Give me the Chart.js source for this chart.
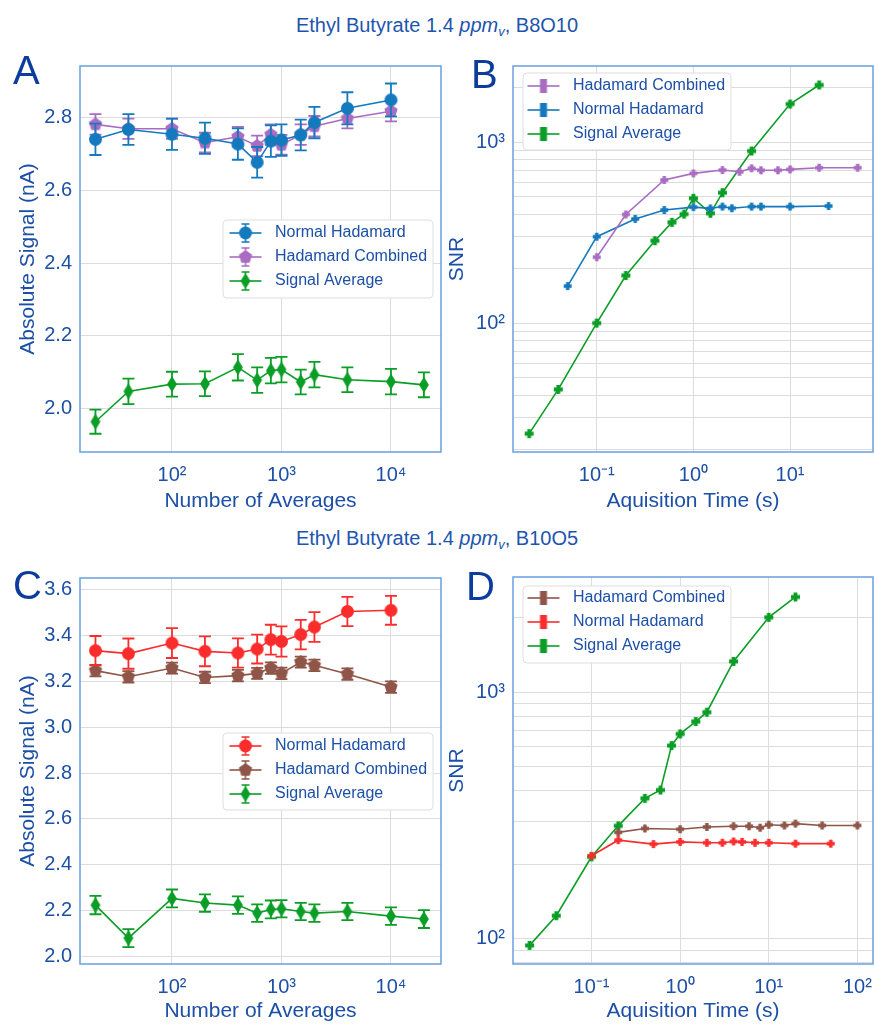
<!DOCTYPE html>
<html>
<head>
<meta charset="utf-8">
<script src="https://cdn.jsdelivr.net/npm/chart.js@4.4.1/dist/chart.umd.min.js"></script>
<style>
  body { margin: 0; background: #fff; }
  #page { position: relative; width: 874px; height: 1024px; overflow: hidden; font-family: 'Liberation Sans', Arial, sans-serif; }
  canvas { position: absolute; }
  .title { position: absolute; left: 0; width: 874px; text-align: center; font-size: 20px; line-height: 24px; color: #1d55ae; }
  .title sub { font-size: 13px; vertical-align: -4px; line-height: 0; }
  .letter { position: absolute; font-size: 40px; line-height: 40px; color: #0c3d9c; }
</style>
</head>
<body>
<div id="page">
  <canvas id="chartA" width="445" height="472" style="left:0;top:50px"></canvas>
  <canvas id="chartB" width="429" height="472" style="left:445px;top:50px"></canvas>
  <canvas id="chartC" width="445" height="462" style="left:0;top:562px"></canvas>
  <canvas id="chartD" width="429" height="462" style="left:445px;top:562px"></canvas>

  <div class="title" style="top:13px">Ethyl Butyrate 1.4 <i>ppm<sub>v</sub></i>, B8O10</div>
  <div class="title" style="top:526px">Ethyl Butyrate 1.4 <i>ppm<sub>v</sub></i>, B10O5</div>
  <div class="letter" style="left:13px;top:50px">A</div>
  <div class="letter" style="left:471px;top:54px">B</div>
  <div class="letter" style="left:13px;top:565px">C</div>
  <div class="letter" style="left:466px;top:566px">D</div>
</div>
<script>
const TEXT = '#1c4fa6';
const GRID = '#dcdcdc';
const SPINE = '#6a9ee0';
const FONT = "'Liberation Sans', Arial, sans-serif";
const BLUE = '#1479bd';
const PURPLE = '#a96cc2';
const GREEN = '#0b9e26';
const RED = '#fb2c2c';
const BROWN = '#8f5548';

// number of averages (x of panels A and C)
const numAverages = [20, 40, 100, 200, 400, 600, 800, 1000, 1500, 2000, 4000, 10000, 20000];
const avgTicks = [100, 1000, 10000];
const avgTickLabels = ['10²', '10³', '10⁴'];

// panel A
const aNormal = [2.739, 2.766, 2.753, 2.742, 2.726, 2.676, 2.734, 2.737, 2.751, 2.785, 2.824, 2.847];
const aNormalErr = [0.043, 0.042, 0.043, 0.043, 0.043, 0.042, 0.043, 0.043, 0.042, 0.043, 0.044, 0.045];
const aCombined = [2.780, 2.768, 2.768, 2.730, 2.746, 2.721, 2.752, 2.724, 2.752, 2.775, 2.796, 2.816];
const aCombinedErr = [0.028, 0.028, 0.028, 0.027, 0.027, 0.028, 0.028, 0.027, 0.028, 0.028, 0.027, 0.028];
const aSignal = [1.965, 2.048, 2.068, 2.069, 2.114, 2.079, 2.105, 2.108, 2.074, 2.094, 2.080, 2.075, 2.066];
const aSignalErr = [0.033, 0.035, 0.034, 0.034, 0.036, 0.035, 0.035, 0.035, 0.034, 0.035, 0.034, 0.035, 0.034];
const aYTicks = [2.0, 2.2, 2.4, 2.6, 2.8];

// panel C
const cNormal = [3.334, 3.321, 3.367, 3.331, 3.324, 3.341, 3.382, 3.374, 3.404, 3.437, 3.505, 3.510];
const cNormalErr = [0.064, 0.066, 0.065, 0.065, 0.064, 0.063, 0.065, 0.066, 0.064, 0.065, 0.064, 0.063];
const cCombined = [3.247, 3.220, 3.258, 3.217, 3.225, 3.235, 3.258, 3.235, 3.284, 3.270, 3.232, 3.175];
const cCombinedErr = [0.025, 0.025, 0.024, 0.025, 0.025, 0.024, 0.025, 0.025, 0.024, 0.025, 0.025, 0.025];
const cSignal = [2.224, 2.080, 2.253, 2.233, 2.224, 2.189, 2.205, 2.208, 2.196, 2.189, 2.196, 2.176, 2.163];
const cSignalErr = [0.040, 0.039, 0.039, 0.038, 0.038, 0.038, 0.039, 0.038, 0.038, 0.038, 0.038, 0.038, 0.039];
const cYTicks = [2.0, 2.2, 2.4, 2.6, 2.8, 3.0, 3.2, 3.4, 3.6];

// panel B (acquisition time in s, SNR)
const bSignalTime = [0.02, 0.04, 0.1, 0.2, 0.4, 0.6, 0.8, 1, 1.5, 2, 4, 10, 20];
const bSignal = [24.5, 43, 100, 183, 285, 360, 400, 489, 404, 525, 892, 1622, 2066];
const bNormalTime = [0.05, 0.1, 0.25, 0.5, 1, 1.5, 2, 2.5, 4, 5, 10, 25];
const bNormal = [160, 300, 376, 421, 437, 430, 440, 431, 440, 440, 440, 443];
const bCombinedTime = [0.1, 0.2, 0.5, 1, 2, 3, 4, 5, 7.5, 10, 20, 50];
const bCombined = [231, 398, 617, 671, 700, 685, 716, 698, 698, 706, 721, 721];
const bTimeTicks = [0.1, 1, 10];
const bTimeLabels = ['10⁻¹', '10⁰', '10¹'];
const bSnrGrid = [20, 30, 40, 50, 60, 70, 80, 90, 100, 200, 300, 400, 500, 600, 700, 800, 900, 1000, 2000];

// panel D
const dSignalTime = [0.02, 0.04, 0.1, 0.2, 0.4, 0.6, 0.8, 1, 1.5, 2, 4, 10, 20];
const dSignal = [94, 124, 215, 287, 371, 401, 607, 677, 760, 829, 1332, 2010, 2432];
const dCombinedTime = [0.2, 0.4, 1, 2, 4, 6, 8, 10, 15, 20, 40, 100];
const dCombined = [270, 280, 278, 284, 286, 286, 282, 290, 288, 293, 288, 288];
const dNormalTime = [0.1, 0.2, 0.5, 1, 2, 3, 4, 5, 7, 10, 20, 50];
const dNormal = [217, 251, 242, 247, 245, 245, 248, 247, 245, 245, 243, 243];
const dTimeTicks = [0.1, 1, 10, 100];
const dTimeLabels = ['10⁻¹', '10⁰', '10¹', '10²'];
const dSnrGrid = [80, 90, 100, 200, 300, 400, 500, 600, 700, 800, 900, 1000, 2000];

const snrLabelVals = [100, 1000];
const snrLabels = ['10²', '10³'];

// marker shapes as small canvases
function drawShape(g, shape, m, n, r) {
  g.beginPath();
  if (shape === 'circle') {
    g.arc(m, n, r, 0, Math.PI * 2);
  } else if (shape === 'pentagon') {
    for (let i = 0; i < 5; i++) {
      const a = -Math.PI / 2 + i * 2 * Math.PI / 5;
      g.lineTo(m + r * Math.cos(a), n + r * Math.sin(a));
    }
  } else if (shape === 'diamond') {
    g.moveTo(m, n - r); g.lineTo(m + r * 0.62, n); g.lineTo(m, n + r); g.lineTo(m - r * 0.62, n);
  } else if (shape === 'plus') {
    const t = r * 0.42;
    g.rect(m - t, n - r, 2 * t, 2 * r);
    g.rect(m - r, n - t, 2 * r, 2 * t);
  } else if (shape === 'bar') {
    g.rect(m - 3.5, n - 7, 7, 14);
  }
  g.closePath();
  g.fill();
}

function marker(shape, color, r) {
  const s = Math.ceil(r * 2 + 2);
  const c = document.createElement('canvas');
  c.width = s; c.height = s;
  const g = c.getContext('2d');
  g.fillStyle = color;
  drawShape(g, shape, s / 2, s / 2, r);
  return c;
}

function legendIcon(shape, color, r, withErr) {
  const c = document.createElement('canvas');
  c.width = 36; c.height = 26;
  const g = c.getContext('2d');
  g.strokeStyle = color; g.fillStyle = color;
  g.lineWidth = 1.6;
  g.beginPath(); g.moveTo(2, 13); g.lineTo(34, 13); g.stroke();
  if (withErr) {
    g.beginPath();
    g.moveTo(18, 4); g.lineTo(18, 22);
    g.moveTo(14, 4); g.lineTo(22, 4);
    g.moveTo(14, 22); g.lineTo(22, 22);
    g.stroke();
  }
  drawShape(g, shape, 18, 13, r);
  return c;
}

function series(label, xs, ys, errs, color, shape, r, legendShape) {
  return {
    label: label,
    data: ys.map((y, i) => ({ x: xs[i], y: y })),
    err: errs,
    borderColor: color,
    backgroundColor: color,
    borderWidth: 1.6,
    pointStyle: marker(shape, color, r),
    legendIcon: legendIcon(legendShape || shape, color, r, !!errs),
  };
}

// error bars drawn through the scales, before each dataset's line and markers
const errorBars = {
  id: 'errorBars',
  beforeDatasetDraw(chart, args) {
    const ds = chart.data.datasets[args.index];
    if (!ds.err) return;
    const { ctx, scales: { x, y } } = chart;
    ctx.save();
    ctx.strokeStyle = ds.borderColor;
    ctx.lineWidth = 1.8;
    ds.data.forEach((p, i) => {
      const px = x.getPixelForValue(p.x);
      const y1 = y.getPixelForValue(p.y - ds.err[i]);
      const y2 = y.getPixelForValue(p.y + ds.err[i]);
      ctx.beginPath();
      ctx.moveTo(px, y1); ctx.lineTo(px, y2);
      ctx.moveTo(px - 6, y1); ctx.lineTo(px + 6, y1);
      ctx.moveTo(px - 6, y2); ctx.lineTo(px + 6, y2);
      ctx.stroke();
    });
    ctx.restore();
  }
};

// full box around the plot area
const frame = {
  id: 'frame',
  afterDatasetsDraw(chart) {
    const { ctx, chartArea: a } = chart;
    ctx.save();
    ctx.strokeStyle = SPINE;
    ctx.lineWidth = 1.5;
    ctx.strokeRect(a.left, a.top, a.right - a.left, a.bottom - a.top);
    ctx.restore();
  }
};

// put the legend at a fixed spot inside the plot, with a white box behind it
const legendPlace = {
  id: 'legendPlace',
  afterInit(chart) {
    const lg = chart.legend;
    const draw = lg.draw.bind(lg);
    lg.draw = function () {
      const f = chart.$legendFrame;
      if (f) {
        const ctx = chart.ctx;
        ctx.save();
        ctx.fillStyle = 'rgba(255,255,255,0.95)';
        ctx.strokeStyle = '#dedede';
        ctx.lineWidth = 1;
        ctx.beginPath();
        ctx.roundRect(f[0], f[1], f[2], f[3], 4);
        ctx.fill();
        ctx.stroke();
        ctx.restore();
      }
      draw();
    };
  },
  afterLayout(chart, args, opts) {
    const lg = chart.legend;
    lg.left = opts.left; lg.top = opts.top;
    lg.right = opts.left + 260; lg.bottom = opts.top + 120;
    chart.$legendFrame = opts.frame;
  }
};

function pickLabel(vals, labels) {
  return (value) => {
    const i = vals.findIndex(v => Math.abs(v - value) < 1e-9 * Math.max(1, v));
    return i >= 0 ? labels[i] : '';
  };
}

function axis(type, min, max, gridVals, label, titleText, titlePad, size) {
  return {
    type: type,
    min: min,
    max: max,
    afterBuildTicks: (s) => { s.ticks = gridVals.map(v => ({ value: v })); },
    afterFit: (s) => {
      if (s.isHorizontal()) s.height = size; else s.width = size;
      s.paddingLeft = 0; s.paddingRight = 0; s.paddingTop = 0; s.paddingBottom = 0;
    },
    grid: { color: GRID, lineWidth: 1, drawTicks: false },
    border: { display: false },
    ticks: { color: TEXT, font: { family: FONT, size: 20 }, padding: type === 'linear' || size === 68 ? 8 : 11, autoSkip: false, maxRotation: 0, callback: label },
    title: { display: true, text: titleText, color: TEXT, font: { family: FONT, size: 21 }, padding: titlePad },
  };
}

function makeChart(id, datasets, xScale, yScale, padding, legendOpts) {
  return new Chart(document.getElementById(id), {
    type: 'line',
    data: { datasets: datasets },
    options: {
      responsive: false,
      animation: false,
      events: [],
      layout: { padding: padding, autoPadding: false },
      scales: { x: xScale, y: yScale },
      plugins: {
        tooltip: { enabled: false },
        legendPlace: legendOpts,
        legend: {
          position: 'chartArea',
          align: 'start',
          labels: {
            usePointStyle: true,
            pointStyleWidth: 43,
            padding: 8,
            color: TEXT,
            font: { family: FONT, size: 16 },
            generateLabels: (chart) => chart.data.datasets.map((ds, i) => ({
              text: ds.label,
              pointStyle: ds.legendIcon,
              fillStyle: ds.borderColor,
              strokeStyle: ds.borderColor,
              lineWidth: 0,
              hidden: false,
              datasetIndex: i,
              fontColor: TEXT,
            })),
          },
        },
      },
    },
    plugins: [errorBars, frame, legendPlace],
  });
}

const fixed1 = (v) => v.toFixed(1);

// A
makeChart('chartA', [
  series('Normal Hadamard', numAverages, aNormal, aNormalErr, BLUE, 'circle', 6.5),
  series('Hadamard Combined', numAverages, aCombined, aCombinedErr, PURPLE, 'pentagon', 7),
  series('Signal Average', numAverages, aSignal, aSignalErr, GREEN, 'diamond', 8),
],
  axis('logarithmic', 14.45, 28650, avgTicks, pickLabel(avgTicks, avgTickLabels), 'Number of Averages', { top: 0, bottom: 8 }, 70),
  axis('linear', 1.882, 2.94, aYTicks, fixed1, 'Absolute Signal (nA)', { top: 16, bottom: 0 }, 80),
  { top: 16, right: 4, left: 0, bottom: 0 },
  { left: 216, top: 167, frame: [223, 170, 210, 78] });

// B
makeChart('chartB', [
  series('Hadamard Combined', bCombinedTime, bCombined, null, PURPLE, 'plus', 4, 'bar'),
  series('Normal Hadamard', bNormalTime, bNormal, null, BLUE, 'plus', 4, 'bar'),
  series('Signal Average', bSignalTime, bSignal, null, GREEN, 'plus', 4.5, 'bar'),
],
  axis('logarithmic', 0.01361, 72.1, bTimeTicks, pickLabel(bTimeTicks, bTimeLabels), 'Aquisition Time (s)', { top: 0, bottom: 8 }, 70),
  axis('logarithmic', 19.4, 2630, bSnrGrid, pickLabel(snrLabelVals, snrLabels), 'SNR', { top: 0, bottom: 0 }, 68),
  { top: 16, right: 1, left: 0, bottom: 0 },
  { left: 69, top: 20, frame: [78, 23, 208, 77] });

// C
makeChart('chartC', [
  series('Normal Hadamard', numAverages, cNormal, cNormalErr, RED, 'circle', 6.5),
  series('Hadamard Combined', numAverages, cCombined, cCombinedErr, BROWN, 'pentagon', 7),
  series('Signal Average', numAverages, cSignal, cSignalErr, GREEN, 'diamond', 8),
],
  axis('logarithmic', 14.45, 28650, avgTicks, pickLabel(avgTicks, avgTickLabels), 'Number of Averages', { top: 0, bottom: 0 }, 60),
  axis('linear', 1.967, 3.651, cYTicks, fixed1, 'Absolute Signal (nA)', { top: 16, bottom: 0 }, 80),
  { top: 16, right: 4, left: 0, bottom: 0 },
  { left: 216, top: 168, frame: [223, 171, 210, 77] });

// D
makeChart('chartD', [
  series('Hadamard Combined', dCombinedTime, dCombined, null, BROWN, 'plus', 4, 'bar'),
  series('Normal Hadamard', dNormalTime, dNormal, null, RED, 'plus', 4, 'bar'),
  series('Signal Average', dSignalTime, dSignal, null, GREEN, 'plus', 4.5, 'bar'),
],
  axis('logarithmic', 0.0130, 150, dTimeTicks, pickLabel(dTimeTicks, dTimeLabels), 'Aquisition Time (s)', { top: 0, bottom: 0 }, 60),
  axis('logarithmic', 79, 2930, dSnrGrid, pickLabel(snrLabelVals, snrLabels), 'SNR', { top: 0, bottom: 0 }, 68),
  { top: 15, right: 1, left: 0, bottom: 0 },
  { left: 69, top: 20, frame: [78, 24, 208, 77] });
</script>
</body>
</html>
